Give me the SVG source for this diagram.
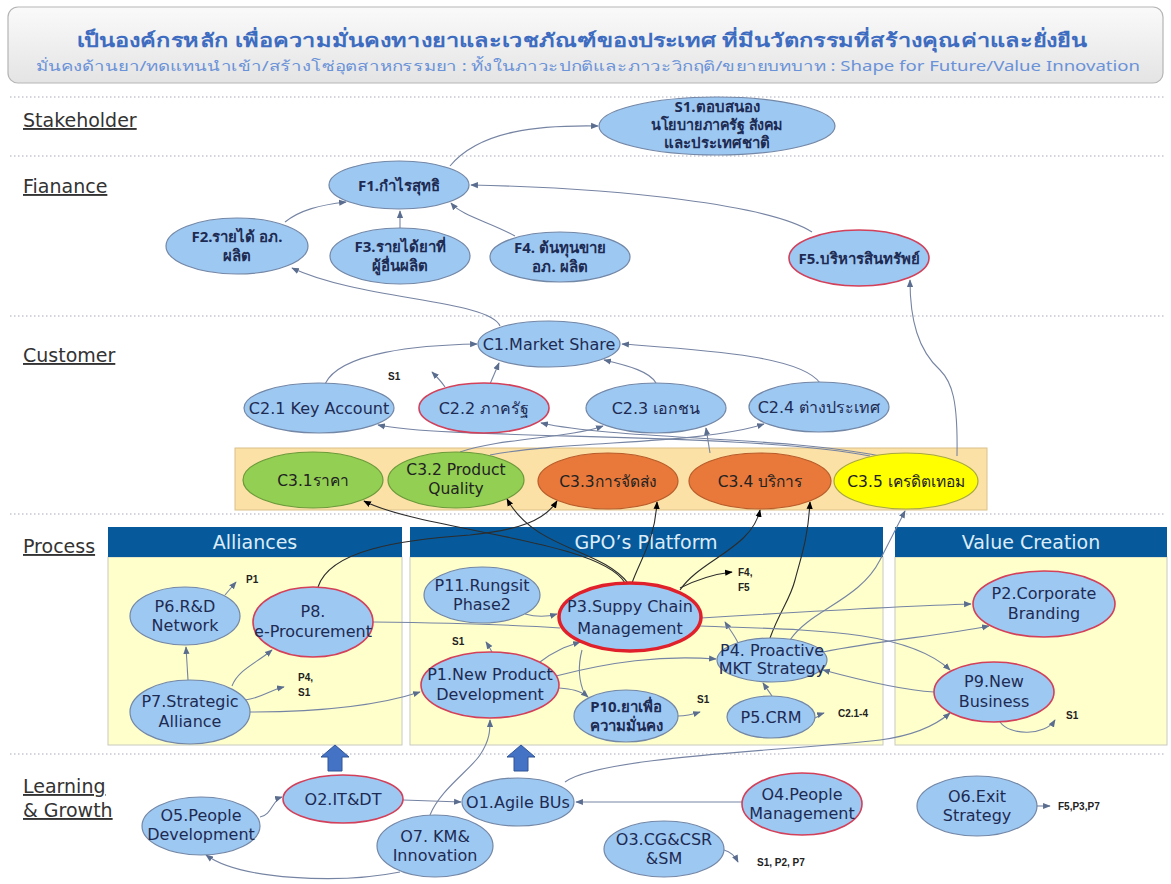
<svg xmlns="http://www.w3.org/2000/svg" width="1171" height="884" viewBox="0 0 1171 884">
<defs>
<linearGradient id="hg" x1="0" y1="0" x2="0" y2="1"><stop offset="0" stop-color="#fafafa"/><stop offset="1" stop-color="#e4e4e4"/></linearGradient>
<marker id="a" viewBox="0 0 10 10" refX="9" refY="5" markerWidth="7" markerHeight="7" orient="auto"><path d="M0,1 L10,5 L0,9 z" fill="#5b6d8f"/></marker>
<marker id="k" viewBox="0 0 10 10" refX="9" refY="5" markerWidth="7" markerHeight="7" orient="auto"><path d="M0,1 L10,5 L0,9 z" fill="#000"/></marker>
</defs>
<style>
.sep{stroke:#a9aab8;stroke-width:1.2;stroke-dasharray:1.5 2.5}
.sec{font-family:"DejaVu Sans","Noto Sans",sans-serif;font-size:19px;fill:#333;text-decoration:underline}
.n{fill:#9dc8f2;stroke:#7387a6;stroke-width:1.2}
.r{fill:#9dc8f2;stroke:#d2405a;stroke-width:1.6}
.t{font-family:"DejaVu Sans","Noto Sans",sans-serif;font-size:16px;fill:#1d2b52;text-anchor:middle}
.th{font-family:"Noto Sans","DejaVu Sans",sans-serif;font-size:15px;font-weight:bold;fill:#1d2b52;text-anchor:middle}
.lb{font-family:"Liberation Sans",Arial,sans-serif;font-size:10px;font-weight:bold;fill:#222}
.hd{fill:#065a9c}
.bd{fill:#ffffcc;stroke:#c9c9c0;stroke-width:1}
.ht{font-family:"DejaVu Sans","Noto Sans",sans-serif;font-size:19px;fill:#dcecf8;text-anchor:middle}
.c{fill:none;stroke:#7684a3;stroke-width:1.1}
.cd{fill:none;stroke:#2c2c2c;stroke-width:1.1}
.g{fill:#92cf52;stroke:#6b9a3a;stroke-width:1.2}
.o{fill:#e8793a;stroke:#b85c2a;stroke-width:1.2}
.y{fill:#ffff00;stroke:#a8a840;stroke-width:1.2}
.ct{font-family:"DejaVu Sans","Noto Sans",sans-serif;font-size:15.5px;fill:#222;text-anchor:middle}
.blk{fill:#4472c4;stroke:#2f5597;stroke-width:1}
</style>

<!-- header -->
<g id="header">
<rect x="8" y="7" width="1155" height="76" rx="10" fill="url(#hg)" stroke="#b5b5b5" stroke-width="1.2"/>
<text x="582" y="47" font-family="'Noto Sans','DejaVu Sans',sans-serif" font-size="19" font-weight="bold" fill="#3d6cc0" text-anchor="middle" textLength="1010" lengthAdjust="spacingAndGlyphs">เป็นองค์กรหลัก  เพื่อความมั่นคงทางยาและเวชภัณฑ์ของประเทศ  ที่มีนวัตกรรมที่สร้างคุณค่าและยั่งยืน</text>
<text x="588" y="71" font-family="'Noto Sans','DejaVu Sans',sans-serif" font-size="14" fill="#6a92d8" text-anchor="middle" textLength="1104" lengthAdjust="spacingAndGlyphs">มั่นคงด้านยา/ทดแทนนำเข้า/สร้างโซ่อุตสาหกรรมยา : ทั้งในภาวะปกติและภาวะวิกฤติ/ขยายบทบาท : Shape for Future/Value Innovation</text>
</g>

<!-- separators and section labels -->
<g id="sections">
<line class="sep" x1="10" y1="97" x2="1166" y2="97"/>
<line class="sep" x1="10" y1="156" x2="1166" y2="156"/>
<line class="sep" x1="10" y1="316" x2="1166" y2="316"/>
<line class="sep" x1="10" y1="514" x2="1166" y2="514"/>
<line class="sep" x1="10" y1="754" x2="1166" y2="754"/>
<text class="sec" x="23" y="127">Stakeholder</text>
<text class="sec" x="23" y="193">Fianance</text>
<text class="sec" x="23" y="362">Customer</text>
<text class="sec" x="23" y="553">Process</text>
<text class="sec" x="23" y="793">Learning</text>
<text class="sec" x="23" y="817">&amp; Growth</text>
</g>

<!-- process panels -->
<g id="panel-alliances">
<rect class="bd" x="108" y="557" width="294" height="188"/>
<rect class="hd" x="108" y="527" width="294" height="30"/>
<text class="ht" x="255" y="549">Alliances</text>
</g>
<g id="panel-platform">
<rect class="bd" x="410" y="557" width="473" height="188"/>
<rect class="hd" x="410" y="527" width="473" height="30"/>
<text class="ht" x="646" y="549">GPO’s Platform</text>
</g>
<g id="panel-value">
<rect class="bd" x="895" y="557" width="272" height="188"/>
<rect class="hd" x="895" y="527" width="272" height="30"/>
<text class="ht" x="1031" y="549">Value Creation</text>
</g>

<!-- C3 band -->
<rect id="c3-band" x="235" y="448" width="752" height="62" fill="#fbe1a5" stroke="#d9c08a" stroke-width="1"/>

<!-- connectors -->
<g id="connectors">
<path class="c" d="M450 166 C480 130 540 125 598 126" marker-end="url(#a)"/>
<path class="c" d="M285 222 C300 210 320 205 346 202" marker-end="url(#a)"/>
<path class="c" d="M400 228 L400 211" marker-end="url(#a)"/>
<path class="c" d="M515 236 C490 222 462 216 451 203" marker-end="url(#a)"/>
<path class="c" d="M812 232 C770 205 620 188 471 185" marker-end="url(#a)"/>
<path class="c" d="M500 326 C490 300 360 300 292 268" marker-end="url(#a)"/>
<path class="c" d="M957 456 C958 400 952 382 940 370 C918 350 910 320 910 280" marker-end="url(#a)"/>
<path class="c" d="M325 384 C340 352 420 345 477 344" marker-end="url(#a)"/>
<path class="c" d="M490 384 L499 363" marker-end="url(#a)"/>
<path class="c" d="M445 387 C441 381 437 377 432 372" marker-end="url(#a)"/>
<path class="c" d="M656 383 C650 372 630 366 604 360" marker-end="url(#a)"/>
<path class="c" d="M820 383 C800 355 700 350 622 344" marker-end="url(#a)"/>
<path class="c" d="M870 456 C750 432 450 440 378 425" marker-end="url(#a)"/>
<path class="c" d="M880 456 C780 436 620 440 541 423" marker-end="url(#a)"/>
<path class="c" d="M460 452 C500 438 570 438 603 426" marker-end="url(#a)"/>
<path class="c" d="M490 455 C570 440 700 445 764 424" marker-end="url(#a)"/>
<path class="c" d="M710 453 L706 428" marker-end="url(#a)"/>
<path class="cd" d="M625 583 C600 540 420 530 364 501" marker-end="url(#k)"/>
<path class="cd" d="M628 583 C600 548 535 550 507 499" marker-end="url(#k)"/>
<path class="cd" d="M632 583 C640 560 655 540 657 502" marker-end="url(#k)"/>
<path class="cd" d="M680 590 C700 560 752 548 760 510" marker-end="url(#k)"/>
<path class="cd" d="M318 587 C330 550 400 540 470 535 C520 530 545 520 557 501" marker-end="url(#k)"/>
<path class="cd" d="M770 638 C780 610 790 600 795 580 C800 560 808 540 810 502" marker-end="url(#k)"/>
<path class="c" d="M790 640 C810 610 860 600 880 560 L905 511" marker-end="url(#a)"/>
<path class="cd" d="M680 588 C700 578 715 574 732 572" marker-end="url(#k)"/>
<path class="c" d="M225 595 L236 582" marker-end="url(#a)"/>
<path class="c" d="M188 680 L186 647" marker-end="url(#a)"/>
<path class="c" d="M232 686 C238 670 255 664 272 650" marker-end="url(#a)"/>
<path class="c" d="M245 700 C262 698 270 690 284 687" marker-end="url(#a)"/>
<path class="c" d="M250 712 C320 712 380 705 420 692" marker-end="url(#a)"/>
<path class="c" d="M373 622 C450 623 520 625 560 628"/>
<path class="c" d="M525 614 C540 618 550 616 557 614" marker-end="url(#a)"/>
<path class="c" d="M540 662 C555 650 568 646 580 642" marker-end="url(#a)"/>
<path class="c" d="M585 695 C578 680 578 665 582 650"/>
<path class="c" d="M492 652 C490 648 488 645 486 642" marker-end="url(#a)"/>
<path class="c" d="M559 688 C570 689 580 690 588 697" marker-end="url(#a)"/>
<path class="c" d="M556 676 C610 662 660 655 716 659" marker-end="url(#a)"/>
<path class="c" d="M678 716 C688 716 694 714 700 712" marker-end="url(#a)"/>
<path class="c" d="M815 718 C819 716 821 714 824 713" marker-end="url(#a)"/>
<path class="c" d="M772 696 C768 690 765 686 763 683" marker-end="url(#a)"/>
<path class="c" d="M738 643 C735 636 730 630 725 622" marker-end="url(#a)"/>
<path class="c" d="M701 618 C800 612 900 606 971 604" marker-end="url(#a)"/>
<path class="c" d="M823 652 C880 640 940 636 989 626" marker-end="url(#a)"/>
<path class="c" d="M700 626 C800 630 905 628 950 670" marker-end="url(#a)"/>
<path class="c" d="M934 692 C900 690 860 680 823 670" marker-end="url(#a)"/>
<path class="c" d="M1000 722 C1010 736 1045 736 1055 720" marker-end="url(#a)"/>
<path class="c" d="M565 782 C600 756 800 750 880 740 C910 736 935 726 950 713" marker-end="url(#a)"/>
<path class="c" d="M430 815 C440 790 470 770 480 755 C490 740 490 730 490 720" marker-end="url(#a)"/>
<path class="c" d="M403 800 L461 802" marker-end="url(#a)"/>
<path class="c" d="M742 802 L576 802" marker-end="url(#a)"/>
<path class="c" d="M260 817 C272 815 272 800 282 797" marker-end="url(#a)"/>
<path class="c" d="M400 872 C340 884 240 880 206 855" marker-end="url(#a)"/>
<path class="c" d="M724 850 C731 852 735 856 738 862" marker-end="url(#a)"/>
<path class="c" d="M1036 806 L1050 806" marker-end="url(#a)"/>
<path class="blk" d="M335 745 L349 757 L342 757 L342 771 L328 771 L328 757 L321 757 Z"/>
<path class="blk" d="M521 745 L535 757 L528 757 L528 771 L514 771 L514 757 L507 757 Z"/>
</g>

<!-- connector labels -->
<g id="connector-labels">
<text class="lb" x="388" y="380">S1</text>
<text class="lb" x="246" y="583">P1</text>
<text class="lb" x="298" y="681">P4,</text>
<text class="lb" x="298" y="696">S1</text>
<text class="lb" x="738" y="576">F4,</text>
<text class="lb" x="738" y="591">F5</text>
<text class="lb" x="452" y="645">S1</text>
<text class="lb" x="697" y="703">S1</text>
<text class="lb" x="838" y="717">C2.1-4</text>
<text class="lb" x="1066" y="719">S1</text>
<text class="lb" x="1058" y="810">F5,P3,P7</text>
<text class="lb" x="757" y="866">S1, P2, P7</text>
</g>

<!-- nodes -->
<g id="S1"><ellipse class="n" cx="717" cy="126" rx="118" ry="29"/><text class="th" x="717" y="112" font-size="12.5">S1.ตอบสนอง</text><text class="th" x="717" y="130" font-size="12.5" textLength="132" lengthAdjust="spacingAndGlyphs">นโยบายภาครัฐ สังคม</text><text class="th" x="717" y="148" font-size="12.5">และประเทศชาติ</text></g>
<g id="F1"><ellipse class="n" cx="399" cy="185" rx="70" ry="24"/><text class="th" x="399" y="191">F1.กำไรสุทธิ</text></g>
<g id="F2"><ellipse class="n" cx="237" cy="246" rx="71" ry="28"/><text class="th" x="237" y="242">F2.รายได้ อภ.</text><text class="th" x="237" y="261">ผลิต</text></g>
<g id="F3"><ellipse class="n" cx="400" cy="256" rx="70" ry="28"/><text class="th" x="400" y="252">F3.รายได้ยาที่</text><text class="th" x="400" y="271">ผู้อื่นผลิต</text></g>
<g id="F4"><ellipse class="n" cx="560" cy="257" rx="70" ry="25"/><text class="th" x="560" y="253">F4. ต้นทุนขาย</text><text class="th" x="560" y="272">อภ. ผลิต</text></g>
<g id="F5"><ellipse class="r" cx="859" cy="258" rx="70" ry="28"/><text class="th" x="859" y="264">F5.บริหารสินทรัพย์</text></g>

<g id="C1"><ellipse class="n" cx="549" cy="344" rx="71" ry="23"/><text class="t" x="549" y="350">C1.Market Share</text></g>
<g id="C2-1"><ellipse class="n" cx="319" cy="408" rx="75" ry="25"/><text class="t" x="319" y="414">C2.1 Key Account</text></g>
<g id="C2-2"><ellipse class="r" cx="484" cy="408" rx="65" ry="25"/><text class="t" x="484" y="414">C2.2 ภาครัฐ</text></g>
<g id="C2-3"><ellipse class="n" cx="656" cy="408" rx="70" ry="25"/><text class="t" x="656" y="414">C2.3 เอกชน</text></g>
<g id="C2-4"><ellipse class="n" cx="819" cy="407" rx="70" ry="25"/><text class="t" x="819" y="413">C2.4 ต่างประเทศ</text></g>

<g id="C3-1"><ellipse class="g" cx="313" cy="480" rx="70" ry="28"/><text class="ct" x="313" y="486">C3.1ราคา</text></g>
<g id="C3-2"><ellipse class="g" cx="456" cy="480" rx="68" ry="28"/><text class="ct" x="456" y="475">C3.2 Product</text><text class="ct" x="456" y="494">Quality</text></g>
<g id="C3-3"><ellipse class="o" cx="608" cy="481" rx="70" ry="28"/><text class="ct" x="608" y="487">C3.3การจัดส่ง</text></g>
<g id="C3-4"><ellipse class="o" cx="760" cy="481" rx="71" ry="28"/><text class="ct" x="760" y="487">C3.4 บริการ</text></g>
<g id="C3-5"><ellipse class="y" cx="906" cy="481" rx="72" ry="28"/><text class="ct" x="906" y="487">C3.5 เครดิตเทอม</text></g>

<g id="P6"><ellipse class="n" cx="185" cy="616" rx="55" ry="29"/><text class="t" x="185" y="612">P6.R&amp;D</text><text class="t" x="185" y="631">Network</text></g>
<g id="P8"><ellipse class="r" cx="313" cy="622" rx="60" ry="35"/><text class="t" x="313" y="617">P8.</text><text class="t" x="313" y="637">e-Procurement</text></g>
<g id="P7"><ellipse class="n" cx="190" cy="712" rx="60" ry="32"/><text class="t" x="190" y="707">P7.Strategic</text><text class="t" x="190" y="727">Alliance</text></g>
<g id="P11"><ellipse class="n" cx="482" cy="595" rx="58" ry="28"/><text class="t" x="482" y="591">P11.Rungsit</text><text class="t" x="482" y="610">Phase2</text></g>
<g id="P3"><ellipse cx="630" cy="617" rx="71" ry="34" fill="#9dc8f2" stroke="#e0202a" stroke-width="3.5"/><text class="t" x="630" y="612" font-size="18">P3.Suppy Chain</text><text class="t" x="630" y="634" font-size="18">Management</text></g>
<g id="P1"><ellipse class="r" cx="490" cy="685" rx="69" ry="33"/><text class="t" x="490" y="680" font-size="16.5">P1.New Product</text><text class="t" x="490" y="700" font-size="16.5">Development</text></g>
<g id="P10"><ellipse class="n" cx="626" cy="716" rx="52" ry="26"/><text class="th" x="626" y="712" font-size="14">P10.ยาเพื่อ</text><text class="th" x="626" y="731" font-size="14">ความมั่นคง</text></g>
<g id="P4"><ellipse class="n" cx="772" cy="660" rx="55" ry="22"/><text class="t" x="772" y="656" font-size="14.5">P4. Proactive</text><text class="t" x="772" y="674" font-size="14.5">MKT Strategy</text></g>
<g id="P5"><ellipse class="n" cx="771" cy="717" rx="44" ry="21"/><text class="t" x="771" y="723" font-size="17">P5.CRM</text></g>
<g id="P2"><ellipse class="r" cx="1044" cy="604" rx="71" ry="33"/><text class="t" x="1044" y="599">P2.Corporate</text><text class="t" x="1044" y="619">Branding</text></g>
<g id="P9"><ellipse class="r" cx="994" cy="692" rx="60" ry="30"/><text class="t" x="994" y="687">P9.New</text><text class="t" x="994" y="707">Business</text></g>

<g id="O5"><ellipse class="n" cx="201" cy="826" rx="59" ry="29"/><text class="t" x="201" y="821">O5.People</text><text class="t" x="201" y="840">Development</text></g>
<g id="O2"><ellipse class="r" cx="343" cy="799" rx="60" ry="24"/><text class="t" x="343" y="805">O2.IT&amp;DT</text></g>
<g id="O1"><ellipse class="n" cx="518" cy="802" rx="56" ry="24"/><text class="t" x="518" y="808">O1.Agile BUs</text></g>
<g id="O7"><ellipse class="n" cx="435" cy="846" rx="58" ry="31"/><text class="t" x="435" y="842">O7. KM&amp;</text><text class="t" x="435" y="861">Innovation</text></g>
<g id="O4"><ellipse class="r" cx="802" cy="804" rx="60" ry="31"/><text class="t" x="802" y="800">O4.People</text><text class="t" x="802" y="819">Management</text></g>
<g id="O3"><ellipse class="n" cx="664" cy="849" rx="60" ry="28"/><text class="t" x="664" y="845">O3.CG&amp;CSR</text><text class="t" x="664" y="864">&amp;SM</text></g>
<g id="O6"><ellipse class="n" cx="977" cy="806" rx="60" ry="30"/><text class="t" x="977" y="802">O6.Exit</text><text class="t" x="977" y="821">Strategy</text></g>
</svg>
